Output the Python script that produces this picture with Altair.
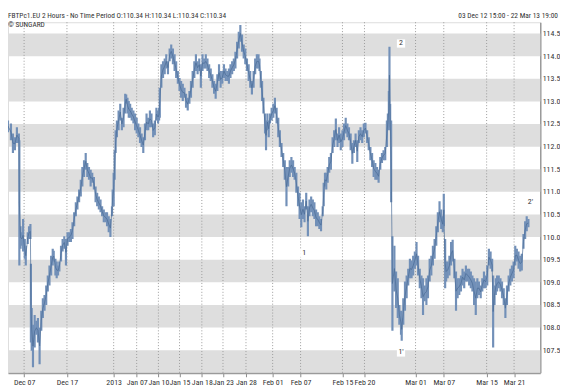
import altair as alt
import pandas as pd

# ---- values -------------------------------------------------------------
HEADER_LEFT = "FBTPc1.EU 2 Hours  -  No Time Period O:110.34 H:110.34 L:110.34 C:110.34"
HEADER_RIGHT = "03 Dec 12 15:00  -  22 Mar 13 19:00"
SOURCE = "© SUNGARD"

TICK_POS = [24.3, 67.7, 115, 138.3, 160.3, 181.7, 204.3, 225.7, 249, 276, 304.3,
            346.7, 369, 420.7, 449.3, 492.7, 520.5]
TICK_LABELS = ["Dec 07", "Dec 17", "2013", "Jan 07", "Jan 10", "Jan 15", "Jan 18",
               "Jan 23", "Jan 28", "Feb 01", "Feb 07", "Feb 15", "Feb 20",
               "Mar 01", "Mar 07", "Mar 15", "Mar 21"]
Y_TICKS = [107.5, 108.0, 108.5, 109.0, 109.5, 110.0, 110.5, 111.0, 111.5, 112.0,
           112.5, 113.0, 113.5, 114.0, 114.5]
BAND_LOW = [107.0, 108.0, 109.0, 110.0, 111.0, 112.0, 113.0, 114.0]

# (bar position, high, low)
SERIES = [
    (0, 112.69, 112.29), (3, 112.43, 112.14), (6, 112.58, 112.21), (8, 112.58, 112.32),
    (11, 112.51, 112.14), (13, 112.29, 111.86), (15, 112.21, 111.92), (17, 112.43, 112.08),
    (19, 112.29, 112.08), (19.5, 112.14, 109.37), (20.7, 110.24, 109.74), (22, 110.11, 109.81),
    (23.3, 110.40, 109.68), (25, 109.96, 109.52), (26, 109.81, 109.37), (28, 110.11, 109.85),
    (29.3, 110.24, 109.96), (30.7, 110.29, 109.96), (31.2, 109.41, 107.67), (32, 108.43, 107.49),
    (33.3, 108.06, 107.12), (35, 108.28, 107.56), (36.7, 108.15, 107.84), (38.3, 108.21, 107.67),
    (40, 108.00, 107.19), (41.7, 108.37, 107.93), (43.3, 108.65, 108.21), (45, 108.72, 108.37),
    (46.7, 108.93, 108.50), (48.3, 109.15, 108.80), (50, 109.37, 108.93), (51.7, 109.59, 109.15),
    (53.3, 109.74, 109.37), (54.3, 109.70, 109.46), (56, 109.52, 109.15), (57.3, 109.46, 109.09),
    (58.7, 109.37, 109.15), (60, 109.46, 109.24), (61.7, 109.81, 109.46), (63.3, 109.96, 109.68),
    (65, 110.02, 109.74), (66.7, 109.96, 109.37), (68.3, 110.11, 109.81), (70, 110.11, 109.89),
    (71.7, 110.18, 109.89), (73.3, 110.33, 109.96), (75, 110.55, 110.24), (76.7, 110.77, 110.46),
    (78.3, 110.90, 110.61), (80, 111.05, 110.77), (81.7, 111.27, 110.90), (83.3, 111.55, 111.12),
    (85, 111.70, 111.33), (86.7, 111.86, 111.49), (88.3, 111.64, 111.33), (90, 111.55, 111.27),
    (91.7, 111.49, 111.12), (93.3, 111.42, 111.20), (95, 111.33, 111.05), (96.7, 111.12, 110.77),
    (98.3, 110.98, 110.68), (100, 110.90, 110.61), (101.7, 110.83, 110.55), (103.3, 110.68, 110.46),
    (105, 110.61, 110.33), (106.7, 110.55, 110.33), (108.3, 110.55, 110.24), (110, 110.46, 110.11),
    (111.7, 110.40, 110.00), (113.3, 110.68, 110.46), (114, 111.05, 110.68), (115, 111.42, 110.68),
    (116, 111.92, 111.27), (117, 112.36, 111.86), (118.3, 112.58, 112.21), (120, 112.80, 112.36),
    (121.7, 112.95, 112.58), (123.3, 112.64, 112.36), (125, 112.86, 112.43), (126.7, 113.17, 112.73),
    (127.7, 113.15, 112.95), (129, 113.08, 112.73), (130.3, 113.01, 112.64), (131.7, 112.95, 112.64),
    (133.3, 112.86, 112.58), (135, 112.80, 112.51), (136.7, 112.73, 112.36), (138.3, 112.64, 112.29),
    (140, 112.51, 112.21), (141.7, 112.43, 112.08), (143.3, 112.29, 111.99), (145, 112.21, 111.86),
    (146.7, 112.51, 112.14), (148.3, 112.73, 112.36), (150, 112.64, 112.36), (151.7, 112.80, 112.43),
    (153.3, 112.73, 112.43), (155, 112.51, 112.21), (156.7, 112.58, 112.25), (158.3, 112.86, 112.58),
    (160, 112.80, 112.51), (161, 112.86, 112.58), (161.7, 113.30, 112.64), (163.3, 113.82, 113.30),
    (165, 113.89, 113.52), (166.7, 113.95, 113.60), (168.3, 114.04, 113.73), (170, 113.89, 113.60),
    (171.7, 114.17, 113.89), (173.3, 114.26, 113.95), (175, 114.17, 113.82), (176.7, 114.04, 113.67),
    (178.3, 113.89, 113.52), (180, 113.67, 113.39), (181.7, 113.52, 113.23), (183.3, 113.45, 113.08),
    (185, 113.39, 113.01), (186.7, 113.30, 113.08), (188.3, 113.17, 112.86), (190, 113.08, 112.80),
    (191.7, 113.23, 112.95), (193.3, 113.45, 113.08), (195, 113.67, 113.30), (196.7, 113.89, 113.52),
    (198.3, 114.04, 113.67), (200, 113.89, 113.60), (201.7, 113.95, 113.67), (203.3, 113.82, 113.30),
    (205, 114.04, 113.67), (206.7, 113.95, 113.73), (208.3, 114.04, 113.73), (210, 113.95, 113.67),
    (211.7, 113.82, 113.52), (213.3, 113.73, 113.45), (215, 113.60, 113.30), (216.7, 113.45, 113.17),
    (218.3, 113.39, 113.06), (220, 113.60, 113.23), (221.7, 113.82, 113.45), (223.3, 113.67, 113.30),
    (225, 113.67, 113.39), (226.7, 113.82, 113.52), (228.3, 113.73, 113.45), (230, 113.67, 113.45),
    (231.7, 113.73, 113.39), (233.3, 113.82, 113.52), (235, 113.89, 113.60), (236.7, 113.95, 113.67),
    (238.3, 114.10, 113.73), (240, 114.32, 113.95), (241.7, 114.54, 114.17), (243.3, 114.69, 114.32),
    (245, 114.48, 114.10), (246.7, 114.26, 113.95), (248.3, 114.17, 113.82), (250, 113.95, 113.67),
    (251.7, 113.82, 113.45), (253.3, 113.67, 113.30), (255, 113.45, 113.15), (256.7, 113.67, 113.30),
    (258.3, 113.95, 113.60), (260, 114.04, 113.73), (261.7, 114.04, 113.73), (262.7, 113.95, 113.67),
    (264, 113.67, 113.30), (265.3, 113.45, 113.01), (266.7, 113.08, 112.73), (268.3, 112.73, 112.29),
    (269.3, 112.58, 111.92), (270.7, 112.73, 112.36), (272, 112.58, 112.21), (273.3, 112.73, 112.51),
    (275, 112.86, 112.58), (276.7, 112.95, 112.64), (278.3, 113.08, 112.73), (280, 112.86, 112.51),
    (281.7, 112.64, 112.21), (283.3, 112.36, 111.99), (285, 112.08, 111.77), (286.7, 111.86, 111.55),
    (288.3, 111.70, 111.27), (290, 111.55, 110.68), (291.7, 111.55, 111.12), (293.3, 111.70, 111.33),
    (295, 111.77, 111.42), (296.7, 111.70, 111.33), (298.3, 111.55, 111.27), (300, 111.42, 110.98),
    (301.7, 111.12, 110.68), (303.3, 110.98, 110.40), (305, 110.77, 110.22), (306.7, 110.83, 110.40),
    (308.3, 110.68, 110.33), (310, 110.98, 110.61), (311.7, 110.68, 110.02), (313.3, 110.83, 110.46),
    (315, 110.90, 110.55), (316.7, 110.83, 110.46), (318.3, 110.77, 110.40), (320, 110.61, 110.24),
    (321.7, 110.55, 110.24), (323.3, 110.46, 110.18), (325, 110.40, 110.13), (326.7, 110.68, 110.46),
    (327.7, 111.20, 110.68), (329, 111.42, 111.12), (330.3, 111.42, 111.05), (331.7, 111.55, 111.20),
    (333.3, 111.77, 111.42), (335, 111.86, 111.49), (336.7, 112.21, 111.86), (338.3, 112.36, 111.99),
    (340, 112.62, 112.14), (341.7, 112.29, 111.99), (343.3, 112.43, 112.08), (345, 112.29, 111.92),
    (346.7, 112.36, 111.99), (348.3, 112.51, 112.14), (350, 112.64, 112.29), (351.7, 112.51, 112.21),
    (353.3, 112.43, 112.14), (355, 112.29, 111.92), (356.7, 112.08, 111.62), (358.3, 112.14, 111.86),
    (360, 112.29, 111.99), (361.7, 112.14, 111.66), (363.3, 112.36, 112.08), (365, 112.43, 112.14),
    (366.7, 112.36, 112.08), (368.3, 112.51, 112.21), (370, 112.53, 112.29), (371.7, 112.36, 112.08),
    (373.3, 112.21, 111.92), (375, 111.99, 111.70), (376.7, 111.86, 111.55), (378.3, 111.70, 111.33),
    (380, 111.64, 111.27), (381.7, 111.55, 111.27), (383.3, 111.49, 111.20), (385, 111.77, 111.49),
    (386.7, 111.86, 111.64), (388.3, 111.92, 111.70), (390, 111.99, 111.70), (391.7, 112.58, 111.99),
    (392.7, 112.73, 112.36), (393.7, 113.23, 112.43), (394.3, 114.21, 112.95), (395, 112.95, 112.36),
    (396, 112.58, 110.77), (397.3, 110.02, 107.93), (399.3, 109.81, 108.80), (401, 109.24, 108.43),
    (402.7, 109.09, 108.21), (404.3, 108.50, 108.06), (406, 108.37, 107.84), (406.7, 108.21, 107.71),
    (408.3, 108.65, 108.06), (410, 109.02, 108.37), (411.7, 109.15, 108.65), (413.3, 109.30, 108.93),
    (415, 109.52, 109.09), (416.7, 109.48, 109.09), (418.3, 109.59, 109.15), (420, 109.68, 109.30),
    (421.7, 109.89, 109.37), (423.3, 109.59, 109.15), (425, 109.30, 108.87), (426.7, 109.15, 108.65),
    (428.3, 109.09, 108.28), (430, 108.93, 108.58), (431.7, 109.09, 108.50), (433.3, 109.15, 108.65),
    (435, 109.52, 109.02), (436.7, 109.59, 109.15), (438.3, 109.81, 109.37), (440, 109.96, 109.52),
    (441.7, 110.24, 109.81), (443.3, 110.55, 110.11), (445, 110.79, 110.33), (446.7, 110.61, 110.18),
    (448.3, 110.46, 110.11), (449.3, 110.96, 110.24), (450.7, 109.96, 108.87), (451.7, 109.46, 109.02),
    (453.3, 109.46, 109.09), (455, 109.59, 109.15), (456.7, 109.89, 109.37), (458.3, 109.94, 109.46),
    (460, 109.52, 109.09), (461.7, 109.24, 108.37), (463.3, 109.09, 108.65), (465, 109.09, 108.72),
    (466.7, 109.15, 108.80), (468.3, 109.30, 108.93), (470, 109.24, 108.87), (471.7, 109.37, 109.02),
    (473.3, 109.30, 109.02), (475, 109.30, 108.93), (476.7, 109.24, 108.87), (478.3, 109.15, 108.80),
    (480, 109.09, 108.50), (481.7, 109.02, 108.28), (483.3, 109.09, 108.65), (485, 109.02, 108.72),
    (486.7, 108.93, 108.65), (488.3, 109.09, 108.80), (490, 109.24, 108.87), (491.7, 109.15, 108.87),
    (493.3, 109.37, 108.93), (495, 109.74, 109.37), (496.7, 109.68, 109.30), (498.3, 109.52, 109.24),
    (499.3, 109.15, 107.56), (500.7, 108.93, 108.50), (502, 109.09, 108.72), (503.3, 109.15, 108.80),
    (505, 109.15, 108.87), (506.7, 109.09, 108.80), (508.3, 109.02, 108.65), (510, 108.87, 108.50),
    (511.7, 108.65, 108.21), (513.3, 108.93, 108.50), (515, 109.15, 108.80), (516.7, 109.30, 108.93),
    (518.3, 109.37, 109.02), (520, 109.46, 109.09), (521.7, 109.81, 109.37), (523.3, 109.74, 109.46),
    (525, 109.68, 109.30), (526.7, 109.59, 109.24), (528.3, 109.63, 109.26), (530, 110.07, 109.74),
    (531.7, 110.35, 109.96), (533.3, 110.46, 110.13), (535, 110.40, 110.22),
]

NOTE_TEXT = ["2", "1", "1'", "2'"]
NOTE_BAR = [406, 308, 406, 537]
NOTE_PRICE = [114.28, 109.65, 107.45, 110.77]

# ---- layout --------------------------------------------------------------
W, H = 539, 355
FONT = "Liberation Sans Narrow, Roboto Condensed, Liberation Sans, Arial, sans-serif"
xs = alt.Scale(domain=[8, 547], nice=False, zero=False)
ys = alt.Scale(domain=[107.0, 114.75], nice=False, zero=False)

ser = pd.DataFrame(SERIES, columns=["bar", "high", "low"])
ser["mid"] = (ser["high"] + ser["low"]) / 2
bands = pd.DataFrame({"lo": BAND_LOW, "hi": [b + 0.5 for b in BAND_LOW]})
grid = pd.DataFrame({"bar": TICK_POS})
notes = pd.DataFrame({"t": NOTE_TEXT, "bar": NOTE_BAR, "low": NOTE_PRICE})

label_expr = ("[" + ",".join("'%s'" % l for l in TICK_LABELS) + "][indexof(["
              + ",".join(str(p) for p in TICK_POS) + "], datum.value)]")

X_AXIS = alt.Axis(values=TICK_POS, labelExpr=label_expr, grid=False,
                  domainColor="#9a9a9a", domainWidth=2, tickColor="#8a8a8a",
                  tickSize=4, labelPadding=2, labelFontSize=8, labelFont=FONT,
                  labelColor="#333333", labelFlush=False, labelOverlap=False, title=None)
Y_AXIS = alt.Axis(orient="right", values=Y_TICKS, format=".1f", grid=False,
                  ticks=False, domainColor="#9a9a9a", domainWidth=1.5,
                  labelPadding=2, labelFontSize=8, labelFont=FONT,
                  labelColor="#333333", labelFlush=False, labelOverlap=False, title=None)

X = alt.X("bar:Q", scale=xs, axis=X_AXIS)
Y = alt.Y("low:Q", scale=ys, axis=Y_AXIS)

band_layer = alt.Chart(bands).mark_rect(color="#dedede").encode(
    x=alt.value(0), x2=alt.value(W),
    y=alt.Y("lo:Q", scale=ys, axis=Y_AXIS), y2="hi:Q")

grid_layer = alt.Chart(grid).mark_rule(color="#9a9a9a", strokeDash=[1, 2], strokeWidth=1).encode(
    x=X)

bars_layer = alt.Chart(ser).mark_rule(color="#7290b8", strokeWidth=2.2, clip=True).encode(
    x=X, y=Y, y2="high:Q")

mid_layer = alt.Chart(ser).mark_line(color="#4a6c96", strokeWidth=0.7, clip=True).encode(
    x=X, y=alt.Y("mid:Q", scale=ys, axis=Y_AXIS))

note_box = alt.Chart(notes).mark_square(size=70, color="white", opacity=1).encode(x=X, y=Y)
note_txt = alt.Chart(notes).mark_text(fontSize=8, font=FONT, color="#333333").encode(
    x=X, y=Y, text="t:N")

head_l = alt.Chart(pd.DataFrame({"t": [HEADER_LEFT]})).mark_text(
    align="left", baseline="alphabetic", fontSize=7.5, font=FONT, color="#333333").encode(
    x=alt.value(0), y=alt.value(-4), text="t:N")
head_r = alt.Chart(pd.DataFrame({"t": [HEADER_RIGHT]})).mark_text(
    align="right", baseline="alphabetic", fontSize=7.5, font=FONT, color="#333333").encode(
    x=alt.value(557), y=alt.value(-4), text="t:N")
head_s = alt.Chart(pd.DataFrame({"t": [SOURCE]})).mark_text(
    align="left", baseline="alphabetic", fontSize=7.5, font=FONT, color="#333333").encode(
    x=alt.value(0), y=alt.value(5), text="t:N")

chart = alt.layer(band_layer, grid_layer, bars_layer, mid_layer, note_box, note_txt,
                  head_l, head_r, head_s).properties(
    width=W, height=H,
    autosize=alt.AutoSizeParams(type="none"),
    padding={"left": 0, "top": 12, "right": 20, "bottom": 16},
).configure_view(stroke=None).configure_axis(grid=False).configure(background="white")

chart.save("out.html", embed_options={"renderer": "svg", "actions": False})
